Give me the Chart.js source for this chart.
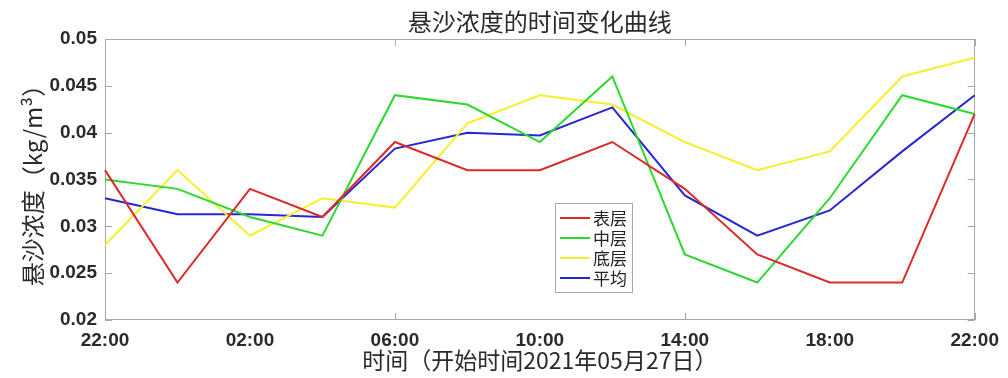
<!DOCTYPE html>
<html><head><meta charset="utf-8">
<script src="https://cdn.jsdelivr.net/npm/chart.js@4.4.1/dist/chart.umd.min.js"></script>
<style>html,body{margin:0;padding:0;background:#fff;overflow:hidden}#wrap{width:1008px;height:378px}</style>
</head><body><div id="wrap"><canvas id="c" width="1008" height="378"></canvas></div>
<script>
const categories = ['22:00','00:00','02:00','04:00','06:00','08:00','10:00','12:00','14:00','16:00','18:00','20:00','22:00'];
const surfaceLayer = [0.036,0.024,0.034,0.031,0.039,0.036,0.036,0.039,0.034,0.027,0.024,0.024,0.042];
const middleLayer  = [0.035,0.034,0.031,0.029,0.044,0.043,0.039,0.046,0.027,0.024,0.033,0.044,0.042];
const bottomLayer  = [0.028,0.036,0.029,0.033,0.032,0.041,0.044,0.043,0.039,0.036,0.038,0.046,0.048];
const averageLayer = [0.033,0.0313,0.0313,0.031,0.0383,0.040,0.0397,0.0427,0.0333,0.029,0.0317,0.038,0.044];
const seriesNames = ['表层','中层','底层','平均'];
const seriesColors = ['#dc2a2a','#2ed82e','#f8ee2c','#2626d4'];
const titleText = '悬沙浓度的时间变化曲线';
const xTitle = '时间（开始时间2021年05月27日）';
const yTitle = '悬沙浓度（kg/m³）';
const yMin = 0.02, yMax = 0.05, yStep = 0.005;

const CJK = '"Noto Sans CJK SC", sans-serif';
const NUM = '"Liberation Sans", Arial, sans-serif';

const boxPlugin = {
  id: 'matBox',
  beforeDatasetsDraw(chart) {
    const {ctx, chartArea: a, scales} = chart;
    ctx.save();
    ctx.strokeStyle = '#a8a8a8';
    ctx.lineWidth = 1;
    ctx.strokeRect(Math.round(a.left) + 0.5, Math.round(a.top) + 0.5, Math.round(a.width) - 1, Math.round(a.height) - 1);
    const L = 7;
    ctx.beginPath();
    scales.y.ticks.forEach(t => {
      const y = Math.round(scales.y.getPixelForValue(t.value)) + 0.5;
      ctx.moveTo(a.left, y); ctx.lineTo(a.left + L, y);
      ctx.moveTo(a.right, y); ctx.lineTo(a.right - L, y);
    });
    scales.x.ticks.forEach((t, i) => {
      if (i % 2 !== 0) return;
      const x = Math.round(scales.x.getPixelForValue(t.value)) + 0.5;
      ctx.moveTo(x, a.bottom); ctx.lineTo(x, a.bottom - L);
      ctx.moveTo(x, a.top); ctx.lineTo(x, a.top + L);
    });
    ctx.stroke();
    ctx.restore();
  }
};

const legendPlugin = {
  id: 'matLegend',
  afterDraw(chart) {
    const {ctx, chartArea: a} = chart;
    const x0 = Math.round(a.left + a.width * 0.5172);
    const y0 = Math.round(a.top + a.height * 0.584);
    const w = 77, h = 89;
    ctx.save();
    ctx.fillStyle = '#fff';
    ctx.fillRect(x0, y0, w, h);
    ctx.strokeStyle = '#a8a8a8';
    ctx.lineWidth = 1;
    ctx.strokeRect(x0 + 0.5, y0 + 0.5, w, h);
    chart.data.datasets.forEach((ds, i) => {
      const y = y0 + 15 + i * 20;
      ctx.strokeStyle = ds.borderColor;
      ctx.lineWidth = 2;
      ctx.beginPath();
      ctx.moveTo(x0 + 5, y); ctx.lineTo(x0 + 35, y);
      ctx.stroke();
      ctx.fillStyle = '#222';
      ctx.font = '17px ' + CJK;
      ctx.textBaseline = 'middle';
      ctx.textAlign = 'left';
      ctx.fillText(ds.label, x0 + 38, y + 1);
    });
    ctx.restore();
  }
};

const seriesData = [surfaceLayer, middleLayer, bottomLayer, averageLayer];

new Chart(document.getElementById('c'), {
  type: 'line',
  data: {
    labels: categories,
    datasets: seriesData.map((d, i) => ({
      label: seriesNames[i],
      data: d,
      borderColor: seriesColors[i],
      backgroundColor: seriesColors[i],
      borderWidth: 2,
      pointRadius: 0,
      tension: 0,
      fill: false
    }))
  },
  options: {
    responsive: false,
    animation: false,
    devicePixelRatio: 1,
    layout: {padding: {left: 0, right: 29, top: 0, bottom: 0}},
    plugins: {legend: {display: false}, tooltip: {enabled: false}, title: {display: false}},
    scales: {
      x: {
        type: 'category',
        position: 'bottom',
        offset: false,
        grid: {display: false, drawTicks: false},
        border: {display: false},
        ticks: {
          autoSkip: false, maxRotation: 0, padding: 9, color: '#2a2a2a',
          font: {family: NUM, size: 19, weight: 'bold'},
          callback: function(v, i) { return i % 2 === 0 ? this.getLabelForValue(v) : null; }
        },
        title: {display: true, text: xTitle, color: '#2a2a2a', font: {family: CJK, size: 23}, padding: {top: 0, bottom: 4}},
        afterFit: s => { s.height = 58; }
      },
      xTop: {
        type: 'category',
        position: 'top',
        labels: categories,
        offset: false,
        grid: {display: false, drawTicks: false},
        border: {display: false},
        ticks: {display: false},
        title: {display: true, text: titleText, color: '#2a2a2a', font: {family: CJK, size: 24}, padding: {top: 7, bottom: 0}},
        afterFit: s => { s.height = 39; }
      },
      y: {
        min: yMin, max: yMax,
        grid: {display: false, drawTicks: false},
        border: {display: false},
        ticks: {
          stepSize: yStep, padding: 8, color: '#2a2a2a',
          font: {family: NUM, size: 19, weight: 'bold'},
          callback: v => String(Number(v.toFixed(3)))
        },
        title: {display: true, text: yTitle, color: '#2a2a2a', font: {family: CJK, size: 24}, padding: {top: 18, bottom: 0}},
        afterFit: s => { s.width = 105; }
      }
    }
  },
  plugins: [boxPlugin, legendPlugin]
});
</script>
</body></html>
